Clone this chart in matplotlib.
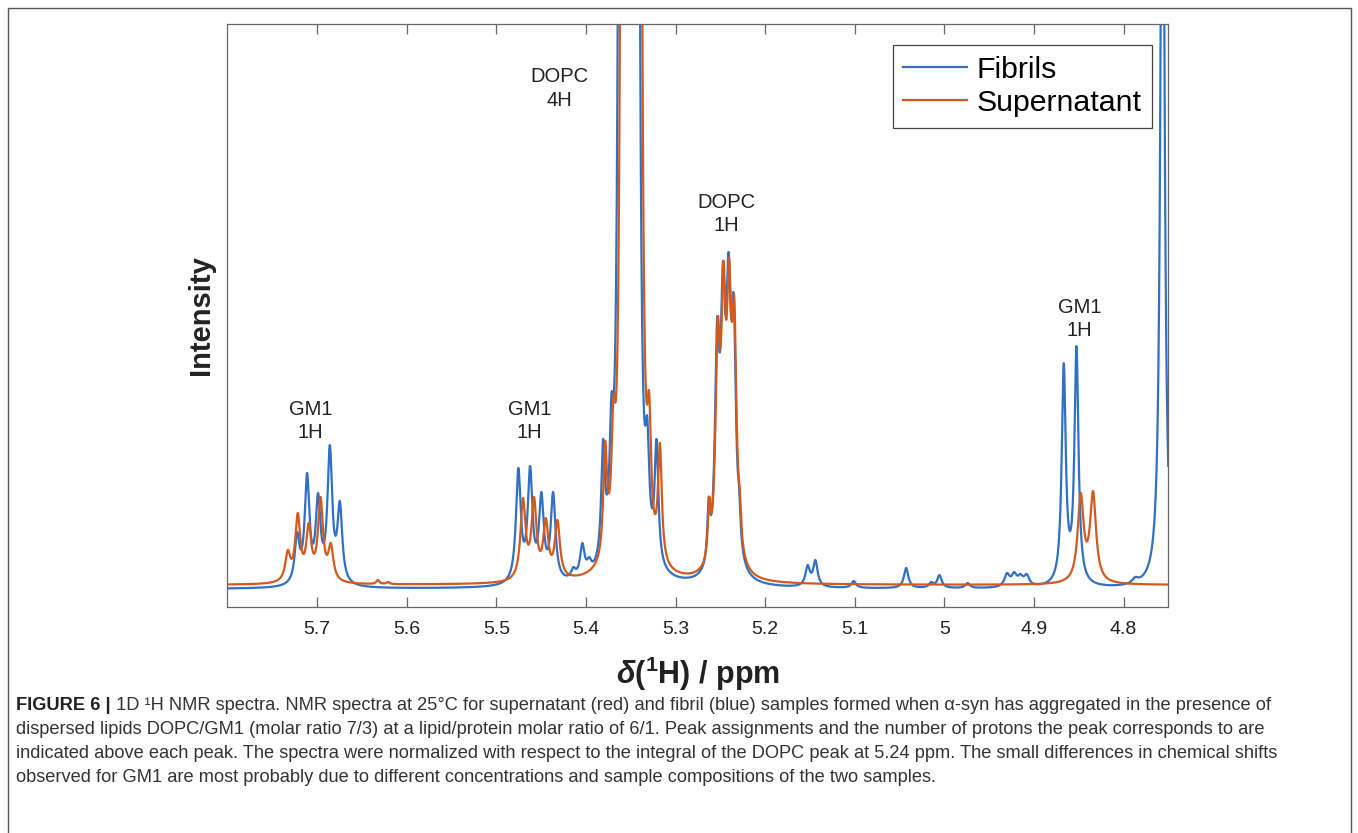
import numpy as np
import matplotlib
matplotlib.use("Agg")
import matplotlib.pyplot as plt
from matplotlib.patches import Rectangle

plt.rcParams['font.family'] = ['Liberation Sans', 'DejaVu Sans']
plt.rcParams['mathtext.fontset'] = 'custom'
plt.rcParams['mathtext.rm'] = 'Liberation Sans:bold'
plt.rcParams['mathtext.it'] = 'Liberation Sans:bold:italic'

# peak lists: position (ppm), apparent height, half width (ppm)
fib_ppm = [5.7223, 5.7112, 5.6989, 5.6858, 5.6746,
           5.4754, 5.4623, 5.4497, 5.4366, 5.414, 5.404, 5.3964,
           5.3808, 5.3715, 5.3625, 5.3555, 5.3480, 5.3415, 5.3315, 5.3212,
           5.2630, 5.2535, 5.2470, 5.2408, 5.2350, 5.2290,
           5.1525, 5.1439, 5.1011, 5.0426, 5.0146, 5.0054, 4.974,
           4.930, 4.922, 4.915, 4.908,
           4.8667, 4.8525, 4.787, 4.7565]
fib_height = [0.55, 1.14, 0.94, 1.42, 0.86,
              1.19, 1.21, 0.95, 0.95, 0.20, 0.44, 0.30,
              1.48, 1.93, 10.0, 14.0, 14.0, 10.0, 1.70, 1.48,
              0.90, 2.69, 3.26, 3.35, 2.92, 1.00,
              0.22, 0.27, 0.06, 0.19, 0.05, 0.12, 0.04,
              0.14, 0.15, 0.13, 0.13,
              2.24, 2.41, 0.10, 9.5]
fib_width = [0.0032] * 5 + [0.0032] * 4 + [0.003] * 3 + \
            [0.0025, 0.0025] + [0.0022] * 4 + [0.0025, 0.0025] + \
            [0.0018, 0.003, 0.0031, 0.0031, 0.003, 0.0018] + \
            [0.003] * 7 + [0.0035] * 4 + \
            [0.0027, 0.0027, 0.004, 0.0025]

sup_ppm = [5.7327, 5.7216, 5.7093, 5.6962, 5.6847, 5.6322, 5.621,
           5.4702, 5.4579, 5.4448, 5.4318,
           5.3785, 5.3693, 5.3600, 5.3530, 5.3455, 5.3390, 5.3294, 5.3174,
           5.2624, 5.2529, 5.2465, 5.2402, 5.2344, 5.2284,
           4.8478, 4.834]
sup_height = [0.37, 0.74, 0.64, 0.90, 0.44, 0.07, 0.05,
              0.89, 0.90, 0.69, 0.67,
              1.46, 1.91, 10.0, 14.0, 14.0, 10.0, 1.95, 1.44,
              0.90, 2.69, 3.26, 3.29, 2.90, 1.00,
              0.94, 0.96]
sup_width = [0.0034] * 5 + [0.002] * 2 + [0.0034] * 4 + \
            [0.0025, 0.0025] + [0.0022] * 4 + [0.0025, 0.0025] + \
            [0.0018, 0.003, 0.0031, 0.0031, 0.003, 0.0018] + [0.004, 0.004]

fib_base = -0.02
sup_base = 0.02

xticks = [5.7, 5.6, 5.5, 5.4, 5.3, 5.2, 5.1, 5.0, 4.9, 4.8]
xtick_labels = ['5.7', '5.6', '5.5', '5.4', '5.3', '5.2', '5.1', '5', '4.9', '4.8']

peak_labels = ['GM1\n1H', 'GM1\n1H', 'DOPC\n4H', 'DOPC\n1H', 'GM1\n1H']
label_ppm = [5.7074, 5.4627, 5.4300, 5.2437, 4.8489]
label_y = [1.66, 1.66, 4.985, 3.73, 2.68]

caption_head = "FIGURE 6 |"
caption_lines = [
    " 1D \u00b9H NMR spectra. NMR spectra at 25\u00b0C for supernatant (red) and fibril (blue) samples formed when \u03b1-syn has aggregated in the presence of",
    "dispersed lipids DOPC/GM1 (molar ratio 7/3) at a lipid/protein molar ratio of 6/1. Peak assignments and the number of protons the peak corresponds to are",
    "indicated above each peak. The spectra were normalized with respect to the integral of the DOPC peak at 5.24 ppm. The small differences in chemical shifts",
    "observed for GM1 are most probably due to different concentrations and sample compositions of the two samples.",
]
# right ends of the first three caption lines in the original (pixels)
caption_ends = [1278, 1252, 1283]


def spectrum(ppm, height, width, base, x):
    p = np.array(ppm)
    w = np.array(width)
    h = np.array(height) - base
    L = 1 / (1 + ((p[:, None] - p[None, :]) / w[None, :]) ** 2)
    amp = np.clip(np.linalg.solve(L, h), 0, None)
    return base + (amp[None, :] / (1 + ((x[:, None] - p[None, :]) / w[None, :]) ** 2)).sum(axis=1)


x = np.linspace(5.8, 4.75, 6000)
fib_y = spectrum(fib_ppm, fib_height, fib_width, fib_base, x)
sup_y = spectrum(sup_ppm, sup_height, sup_width, sup_base, x)

W, H = 1358, 833
fig = plt.figure(figsize=(W / 100, H / 100), dpi=100)
ax = fig.add_axes([227.5 / W, 1 - 607 / H, (1168.3 - 227.5) / W, (607 - 24) / H])

ax.plot(x, fib_y, color='#3170c4', lw=1.6, label='Fibrils')
ax.plot(x, sup_y, color='#d35a1f', lw=1.6, label='Supernatant')

ax.set_xlim(5.8, 4.75)
ax.set_ylim(-0.2, 5.63)
ax.set_xticks(xticks)
ax.set_xticklabels(xtick_labels)
ax.set_yticks([])
ax.tick_params(axis='x', direction='in', length=7, width=0.9, top=True,
               labelsize=14, pad=10, color='#666666', labelcolor='#222222')
for s in ax.spines.values():
    s.set_color('#666666')
    s.set_linewidth(0.9)

for txt, px, py in zip(peak_labels, label_ppm, label_y):
    ax.text(px, py, txt, ha='center', va='center', fontsize=14.5,
            linespacing=1.3, color='#222222')

leg = ax.legend(loc='upper right', bbox_to_anchor=(1 - 16 / 940.8, 1 - 21 / 583),
                fontsize=21.8, fancybox=False, edgecolor='#444444', framealpha=1,
                handlelength=2.1, handletextpad=0.32, borderpad=0.35,
                labelspacing=0.18, borderaxespad=0)
leg.get_frame().set_linewidth(0.9)

ax.set_xlabel(r'$\delta$($^{1}$H) / ppm', fontsize=22, fontweight='bold',
              labelpad=12, color='#222222')
ax.set_ylabel('Intensity', fontsize=21, fontweight='bold', labelpad=9,
              color='#222222')

# frame round the whole figure
fig.add_artist(Rectangle((8 / W, -0.05), (1351 - 8) / W, 1 - 8 / H + 0.05,
                         transform=fig.transFigure, fill=False,
                         ec='#555555', lw=1.0, clip_on=False))

# caption, font size fitted to the width of the original lines
line_y = [705, 729, 753, 777]
r = fig.canvas.get_renderer()
ratios = []
for i in range(3):
    t = fig.text(16 / W, 0, caption_lines[i], fontsize=16)
    if i == 0:
        hd = fig.text(16 / W, 0, caption_head, fontsize=16, fontweight='bold')
        wid = t.get_window_extent(r).width + hd.get_window_extent(r).width
        hd.remove()
    else:
        wid = t.get_window_extent(r).width
    t.remove()
    ratios.append((caption_ends[i] - 16) / wid)
cap_size = 16 * np.mean(ratios)

head = fig.text(16 / W, 1 - line_y[0] / H, caption_head, fontsize=cap_size,
                fontweight='bold', va='center', color='#222222')
hx = head.get_window_extent(r).x1
fig.text(hx / W, 1 - line_y[0] / H, caption_lines[0], fontsize=cap_size,
         va='center', color='#333333')
for t, yy in zip(caption_lines[1:], line_y[1:]):
    fig.text(16 / W, 1 - yy / H, t, fontsize=cap_size, va='center', color='#333333')

fig.savefig('out.png', dpi=100, facecolor='white')
